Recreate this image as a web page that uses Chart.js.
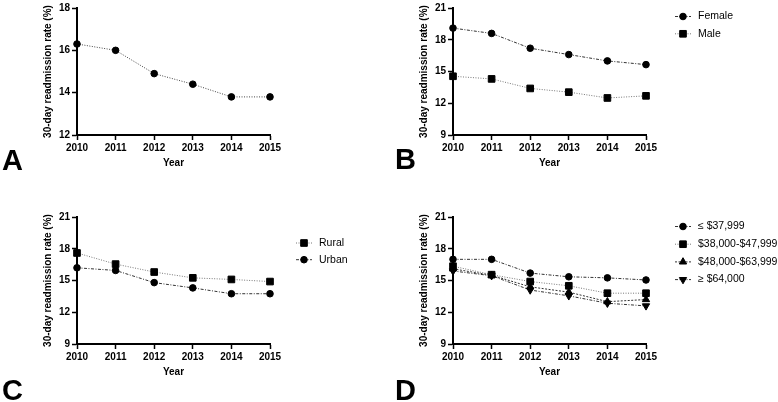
<!DOCTYPE html>
<html>
<head>
<meta charset="utf-8">
<script src="https://cdn.jsdelivr.net/npm/chart.js@4.4.0/dist/chart.umd.min.js"></script>
<style>
  html, body { margin: 0; padding: 0; background: #fff; }
  #wrap { position: relative; width: 778px; height: 402px; overflow: hidden; }
  canvas { position: absolute; }
</style>
</head>
<body>
<div id="wrap">
  <canvas id="panelA" width="402" height="193" style="left:0;top:0"></canvas>
  <canvas id="panelB" width="402" height="193" style="left:376px;top:0"></canvas>
  <canvas id="panelC" width="402" height="193" style="left:0;top:209px"></canvas>
  <canvas id="panelD" width="402" height="193" style="left:376px;top:209px"></canvas>
</div>
<script>
// values (30-day readmission rate, %)
const years = ['2010', '2011', '2012', '2013', '2014', '2015'];

const overallRate = [16.3, 16.0, 14.9, 14.4, 13.8, 13.8];

const femaleRate = [19.1, 18.6, 17.2, 16.6, 16.0, 15.65];
const maleRate = [14.55, 14.3, 13.4, 13.05, 12.5, 12.7];

const ruralRate = [17.6, 16.55, 15.8, 15.25, 15.1, 14.9];
const urbanRate = [16.2, 15.95, 14.8, 14.3, 13.75, 13.75];

const incomeLabels = ['≤ $37,999', '$38,000-$47,999', '$48,000-$63,999', '≥ $64,000'];
const incomeLowest = [17.0, 17.0, 15.7, 15.35, 15.25, 15.05];
const incomeLow = [16.35, 15.55, 14.9, 14.5, 13.8, 13.8];
const incomeHigh = [16.1, 15.5, 14.4, 13.9, 13.0, 13.2];
const incomeHighest = [15.9, 15.45, 14.1, 13.55, 12.85, 12.6];

const FONT = '"Liberation Sans", Arial, Helvetica, sans-serif';
Chart.defaults.font.family = FONT;
Chart.defaults.color = '#000';

const DOTTED = [1, 1.5];
const DASHDOT = [3, 1.5, 1, 1.5];
const DASHED = [2, 1.5];

function series(label, data, style, color, dash, radius, rotation) {
    return {
        label: label,
        data: data,
        borderColor: color,
        borderWidth: 1,
        borderDash: dash,
        backgroundColor: '#000',
        pointBackgroundColor: '#000',
        pointBorderColor: '#000',
        pointBorderWidth: 1,
        pointStyle: style,
        pointRadius: radius,
        pointHoverRadius: radius,
        pointRotation: rotation || 0,
        tension: 0,
        fill: false,
        clip: false
    };
}

// panel letter and the little line+marker legend
const panelExtras = {
    id: 'panelExtras',
    afterDraw(chart, args, opts) {
        const ctx = chart.ctx;
        const area = chart.chartArea;
        ctx.save();
        if (opts.letter) {
            ctx.font = 'bold 29px ' + FONT;
            ctx.fillStyle = '#000';
            ctx.textBaseline = 'alphabetic';
            ctx.textAlign = 'left';
            ctx.fillText(opts.letter, opts.letterX, opts.letterY);
        }
        if (opts.legend) {
            const x = area.right + opts.legend.dx;
            let y = area.top + opts.legend.dy;
            chart.data.datasets.forEach(ds => {
                ctx.strokeStyle = ds.borderColor;
                ctx.lineWidth = 1;
                ctx.setLineDash(ds.borderDash || []);
                ctx.beginPath();
                ctx.moveTo(x - 8, y);
                ctx.lineTo(x + 8, y);
                ctx.stroke();
                ctx.setLineDash([]);
                ctx.fillStyle = '#000';
                ctx.strokeStyle = '#000';
                Chart.helpers.drawPoint(ctx, {
                    pointStyle: ds.pointStyle,
                    radius: ds.pointRadius,
                    rotation: ds.pointRotation || 0,
                    borderWidth: 1
                }, x, y);
                ctx.font = '10.5px ' + FONT;
                ctx.textBaseline = 'middle';
                ctx.textAlign = 'left';
                ctx.fillText(ds.label, x + 15, y);
                y += opts.legend.gap;
            });
        }
        ctx.restore();
    }
};

function axisGrid() {
    return {
        drawOnChartArea: false,
        drawTicks: true,
        tickLength: 5,
        tickWidth: 1.5,
        tickColor: '#000'
    };
}

function createPanel(canvasId, datasets, yMin, yMax, yStep, extras) {
    const ctx = document.getElementById(canvasId);
    return new Chart(ctx.getContext('2d'), {
        type: 'line',
        data: { labels: years, datasets: datasets },
        options: {
            responsive: false,
            animation: false,
            devicePixelRatio: 1,
            layout: { padding: { left: 42, top: 7, right: 132, bottom: 24 } },
            scales: {
                x: {
                    type: 'category',
                    offset: false,
                    grid: axisGrid(),
                    border: { display: true, color: '#000', width: 2 },
                    ticks: { font: { size: 10, weight: 'bold' }, color: '#000', padding: 2, maxRotation: 0 },
                    title: { display: true, text: 'Year', font: { size: 10, weight: 'bold' }, color: '#000', padding: 0 },
                    afterFit: function (scale) { scale.height = 34; }
                },
                y: {
                    min: yMin,
                    max: yMax,
                    grid: axisGrid(),
                    border: { display: true, color: '#000', width: 2 },
                    ticks: { stepSize: yStep, font: { size: 10, weight: 'bold' }, color: '#000', padding: 2 },
                    title: { display: true, text: '30-day readmission rate (%)', font: { size: 10, weight: 'bold' }, color: '#000', padding: 0 },
                    afterFit: function (scale) { scale.width = 35; }
                }
            },
            plugins: {
                legend: { display: false },
                tooltip: { enabled: false },
                panelExtras: extras
            }
        },
        plugins: [panelExtras]
    });
}

createPanel('panelA', [
    series('All', overallRate, 'circle', '#444', DOTTED, 3.3)
], 12, 18, 2, { letter: 'A', letterX: 2, letterY: 170 });

createPanel('panelB', [
    series('Female', femaleRate, 'circle', '#333', DASHDOT, 3.3),
    series('Male', maleRate, 'rect', '#777', DOTTED, 4.7)
], 9, 21, 3, { letter: 'B', letterX: 19, letterY: 169, legend: { dx: 37, dy: 8.5, gap: 17.3 } });

createPanel('panelC', [
    series('Rural', ruralRate, 'rect', '#777', DOTTED, 4.7),
    series('Urban', urbanRate, 'circle', '#333', DASHDOT, 3.3)
], 9, 21, 3, { letter: 'C', letterX: 2, letterY: 191, legend: { dx: 34, dy: 26, gap: 16.7 } });

createPanel('panelD', [
    series(incomeLabels[0], incomeLowest, 'circle', '#333', DASHDOT, 3.3),
    series(incomeLabels[1], incomeLow, 'rect', '#777', DOTTED, 4.7),
    series(incomeLabels[2], incomeHigh, 'triangle', '#333', DASHED, 4.2),
    series(incomeLabels[3], incomeHighest, 'triangle', '#333', DASHDOT, 4.2, 180)
], 9, 21, 3, { letter: 'D', letterX: 19, letterY: 191, legend: { dx: 37, dy: 9.5, gap: 17.7 } });
</script>
</body>
</html>
